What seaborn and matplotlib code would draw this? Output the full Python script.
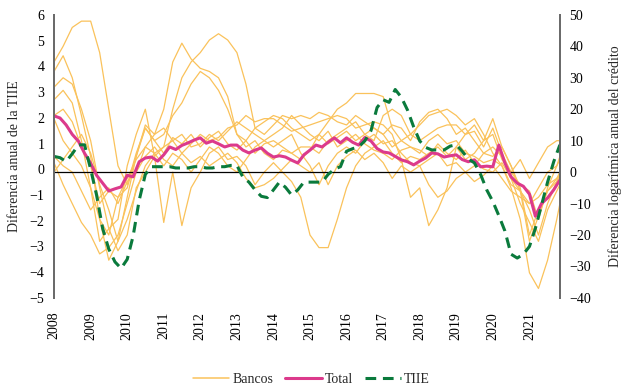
import pandas as pd
import matplotlib.pyplot as plt
import matplotlib.dates as mdates
import seaborn as sns

# Crecimiento del crédito por banco (eje derecho), datos trimestrales + nov 2021
bank_dates = pd.date_range('2008-01-01', '2021-10-01', freq='QS').append(pd.DatetimeIndex(['2021-11-01']))

bank_a = [35, 40, 46, 48, 48, 38, 20, 2, -4, 6, 14, 10, 6, 11, 9, 12, 8, 11, 13, 9, 7, 10, 6, 9,
          10, 8, 6, 4, 7, 12, 16, 20, 22, 25, 25, 25, 24, 14, 10, 8, 6, 10, 12, 9, 10, 6, 5, 3,
          4, 2, -4, -6, -10, -5, 0, 2, 4]
bank_b = [32, 37, 30, 18, 5, -15, -28, -22, -8, 5, 15, 12, 20, 35, 41, 36, 33, 32, 30, 24, 12, 10, 14, 16,
          18, 17, 14, 12, 10, 12, 9, 11, 13, 10, 12, 14, 12, 15, 14, 10, 16, 19, 20, 17, 12, 14, 10, 6,
          5, 8, 2, -5, -20, -12, -6, -3, -1]
bank_c = [27, 30, 28, 20, 10, -5, -18, -25, -20, -5, 0, 5, 8, 20, 30, 35, 38, 42, 44, 42, 38, 28, 14, 12,
          15, 18, 17, 18, 17, 19, 18, 16, 15, 18, 16, 14, 12, 8, 10, 12, 15, 18, 19, 20, 18, 15, 17, 12,
          6, 2, -5, -15, -32, -37, -28, -15, -10]
bank_d = [23, 26, 22, 10, -5, -22, -18, -15, 2, 12, 20, 5, -16, 0, -17, -5, 0, 6, 8, 4, 5, 2, -4, 0,
          3, 0, -3, -8, -20, -24, -24, -15, -5, 2, 6, 8, 10, 6, 3, 5, 4, 6, 8, 5, 8, 4, 6, 10,
          12, 4, 0, -4, -6, -15, -5, 2, 5]
bank_e = [18, 20, 16, 8, 2, -10, -6, -8, -5, 5, 14, 10, 12, 18, 22, 28, 32, 30, 26, 20, 12, 8, 10, 6,
          4, 7, 6, 8, 8, 6, 10, 12, 14, 16, 12, 10, 18, 20, 18, 12, 10, 12, 14, 15, 15, 12, 13, 8,
          14, 6, 0, 4, -2, 3, 8, 10, 10]
bank_f = [17, 10, 6, 2, -5, -15, -20, -8, -2, 4, 8, 6, 8, 10, 6, 9, 12, 10, 11, 14, 15, 18, 16, 17,
          17, 15, 13, 14, 15, 16, 17, 18, 17, 14, 15, 16, 15, 12, 4, -8, -5, -17, -12, -5, 8, 12, 15, 10,
          17, 8, 2, -6, -22, -14, -6, -2, 0]
bank_g = [5, 2, 0, -6, -12, -8, -5, -10, -3, 0, 5, 8, 4, 2, 6, 3, 5, 2, 4, 6, 3, -2, -5, -4,
          -2, 1, 4, 2, 0, 3, -4, 2, 5, 7, 4, 6, 3, -2, 2, 0, 2, -4, -8, -6, -2, 0, -3, -1,
          2, -2, -6, -8, -10, -8, -4, -2, -1]
bank_h = [3, -4, -10, -16, -20, -26, -24, -20, -10, 0, 8, 12, 14, 10, 12, 8, 9, 12, 10, 13, 16, 14, 12, 10,
          12, 14, 18, 15, 12, 10, 13, 8, 10, 12, 9, 7, 6, 4, 7, 8, 7, 5, 9, 6, 4, 7, 3, 1,
          0, 3, -2, -6, -12, -20, -10, -3, 0]
bank_i = [0, 4, 8, 12, 6, -4, -12, -22, -15, -6, 2, 6, 2, 6, 4, 0, 4, 8, 6, 2, 0, 4, 8, 10,
          8, 10, 12, 6, 2, -4, 2, 6, 8, 6, 10, 12, 9, 10, 6, 3, 2, 4, 6, 2, 3, 0, 2, 6,
          8, 5, -2, -10, -16, -22, -12, -6, -4]
banks = [bank_a, bank_b, bank_c, bank_d, bank_e, bank_f, bank_g, bank_h, bank_i]

# Total (eje derecho) y TIIE (eje izquierdo), datos bimestrales
dates = pd.date_range('2008-01-01', periods=84, freq='2MS')
total = [17.9, 17.2, 15.0, 12.0, 9.8, 6.0,
         2.8, -1.0, -3.5, -6.0, -5.3, -4.7,
         -1.0, -1.5, 3.3, 4.5, 4.8, 3.5,
         5.5, 8.0, 7.2, 8.5, 9.3, 10.2,
         10.9, 9.2, 9.9, 9.0, 8.0, 8.6,
         8.6, 7.0, 6.1, 7.0, 7.7, 6.0,
         4.8, 5.2, 4.8, 3.8, 2.9, 5.5,
         7.0, 8.6, 8.0, 9.5, 10.9, 9.3,
         10.9, 9.5, 8.6, 11.0, 9.9, 7.5,
         6.4, 6.1, 5.0, 3.9, 3.3, 2.3,
         3.5, 4.5, 6.1, 5.8, 4.8, 5.2,
         5.5, 4.0, 3.3, 3.9, 1.7, 1.9,
         1.7, 8.6, 2.9, -1.5, -3.5, -4.5,
         -7.0, -14.0, -10.0, -8.2, -5.6, -2.5]
tiie = [0.5, 0.45, 0.3, 0.6, 0.95, 0.95,
        0.0, -1.0, -2.3, -3.1, -3.6, -3.85,
        -3.5, -2.6, -1.2, -0.2, 0.1, 0.1,
        0.1, 0.1, 0.05, 0.05, 0.05, 0.1,
        0.1, 0.05, 0.05, 0.1, 0.1, 0.15,
        0.15, -0.3, -0.5, -0.8, -1.05, -1.1,
        -0.8, -0.5, -0.7, -1.0, -0.8, -0.5,
        -0.5, -0.5, -0.5, -0.2, 0.0, 0.1,
        0.7, 0.8, 0.87, 1.1, 1.5, 2.4,
        2.7, 2.6, 3.1, 2.8, 2.3, 1.65,
        1.1, 0.85, 0.75, 0.75, 0.75, 0.9,
        0.95, 0.7, 0.4, 0.25, -0.2, -0.8,
        -1.25, -1.8, -2.4, -3.3, -3.45, -3.3,
        -3.0, -2.3, -1.4, -0.5, 0.3, 0.95]

years = list(range(2008, 2022))

bank_df = pd.concat([pd.DataFrame({'fecha': bank_dates, 'valor': b, 'banco': i})
                     for i, b in enumerate(banks)])
main_df = pd.DataFrame({'fecha': dates, 'total': total, 'tiie': tiie})

sns.set_theme(style='white')
plt.rcParams['font.family'] = ['Liberation Serif', 'DejaVu Serif']

c_bank = '#FAC25B'
c_total = '#DC3A8C'
c_tiie = '#0A7A3C'
c_axis = '#6b6b6b'

fig = plt.figure(figsize=(6.23, 3.91), dpi=100)
ax = fig.add_axes([0.0867, 0.238, 0.812, 0.724])  # credito (eje derecho)
ax2 = ax.twinx()  # TIIE (eje izquierdo), dibujado encima

sns.lineplot(data=bank_df, x='fecha', y='valor', units='banco', estimator=None,
             color=c_bank, lw=0.9, ax=ax, legend=False)
ax.axhline(0, color='black', lw=0.9, zorder=3)
sns.lineplot(data=main_df, x='fecha', y='total', color=c_total, lw=2.2, ax=ax, zorder=4)
sns.lineplot(data=main_df, x='fecha', y='tiie', color=c_tiie, lw=2.2, ax=ax2)
ax2.lines[0].set_dashes([3.5, 2.2])

ax.set_ylim(-40, 50)
ax.set_yticks(range(-40, 51, 10))
ax2.set_ylim(-5, 6)
ax2.set_yticks(range(-5, 7))

ax.yaxis.tick_right()
ax.yaxis.set_label_position('right')
ax2.yaxis.tick_left()
ax2.yaxis.set_label_position('left')

ax.set_xlim(pd.Timestamp('2008-01-01'), pd.Timestamp('2021-11-01'))
ax.set_xticks([pd.Timestamp(f'{y}-01-01') for y in years])
ax.xaxis.set_major_formatter(mdates.DateFormatter('%Y'))
for lab in ax.get_xticklabels():
    lab.set_rotation(90)

ax.set_xlabel('')
ax.set_ylabel('Diferencia logarítmica anual del crédito', fontsize=10, labelpad=12)
ax2.set_ylabel('Diferencia anual de la TIIE', fontsize=10, labelpad=6)

for a in (ax, ax2):
    a.tick_params(axis='both', length=0, labelsize=10, colors='black')
    a.tick_params(axis='x', pad=10)
    a.tick_params(axis='y', pad=7)
    a.spines['top'].set_visible(False)
    a.spines['bottom'].set_visible(False)
    a.spines['left'].set_color(c_axis)
    a.spines['right'].set_color(c_axis)
    a.spines['left'].set_linewidth(1.4)
    a.spines['right'].set_linewidth(1.4)
    a.grid(False)

handles = [plt.Line2D([], [], color=c_bank, lw=1.1),
           plt.Line2D([], [], color=c_total, lw=2.2),
           plt.Line2D([], [], color=c_tiie, lw=2.2, dashes=[3.5, 2.2])]
fig.legend(handles, ['Bancos', 'Total', 'TIIE'], loc='lower center', ncol=3,
           bbox_to_anchor=(0.5, -0.02), frameon=False, fontsize=10,
           handlelength=2.6, handletextpad=0.2, columnspacing=0.9)

fig.savefig('out.png', dpi=100)
